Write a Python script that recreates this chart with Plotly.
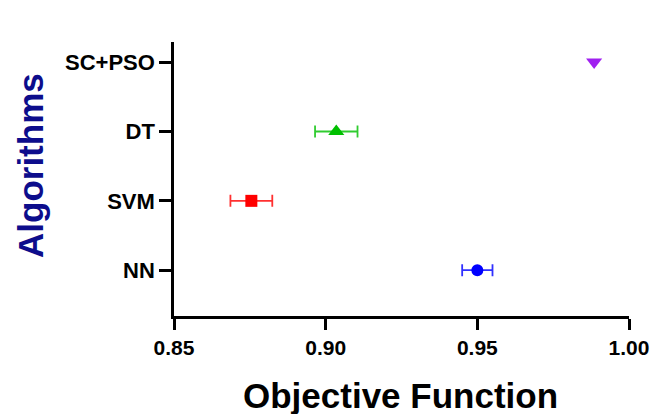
import plotly.graph_objects as go

algorithms = ["NN", "SVM", "DT", "SC+PSO"]
objective = [0.950, 0.8755, 0.9035, 0.9885]
errors = [0.005, 0.0069, 0.007, 0.0]
marker_symbols = ["circle", "square", "triangle-up", "triangle-down"]
marker_sizes = [12, 12, 14, 14]
marker_colors = ["#0000FF", "#FF0000", "#00C000", "#A020F0"]
error_colors = ["#3030FF", "#FF3030", "#30CC30", "#A020F0"]
x_ticks = [0.85, 0.90, 0.95, 1.00]
x_tick_labels = ["0.85", "0.90", "0.95", "1.00"]

fig = go.Figure()
for i, name in enumerate(algorithms):
    fig.add_trace(go.Scatter(
        x=[objective[i]], y=[i], mode="markers", name=name,
        marker=dict(symbol=marker_symbols[i], color=marker_colors[i],
                    size=marker_sizes[i], line=dict(width=0)),
        error_x=dict(type="data", array=[errors[i]], visible=errors[i] > 0,
                     color=error_colors[i], thickness=1.8, width=6),
        showlegend=False,
    ))

font = "Liberation Sans, Arial, sans-serif"
fig.update_layout(
    width=654, height=414,
    margin=dict(l=174, r=25, t=42, b=98, autoexpand=False),
    paper_bgcolor="white", plot_bgcolor="white",
    font=dict(family=font, color="black"),
    xaxis=dict(range=[0.85, 1.00], tickvals=x_ticks, ticktext=x_tick_labels,
               automargin=False,
               showgrid=False, zeroline=False, showline=True, linecolor="black",
               linewidth=2.5, ticks="outside", ticklen=11, tickwidth=2.5,
               tickcolor="black", tickfont=dict(size=21, family=font, weight="bold")),
    yaxis=dict(range=[-0.66, 3.29], tickvals=list(range(len(algorithms))),
               ticktext=algorithms, automargin=False,
               showgrid=False, zeroline=False, showline=True,
               linecolor="black", linewidth=2.5, ticks="outside", ticklen=12,
               tickwidth=2.5, tickcolor="black",
               tickfont=dict(size=22, family=font, weight="bold")),
    annotations=[
        dict(text="<b>Objective Function</b>", xref="paper", yref="paper",
             x=(400 - 174) / 455, y=-(395 - 316) / 274, xanchor="center",
             yanchor="middle", showarrow=False,
             font=dict(size=35, family=font, color="black")),
        dict(text="<b>Algorithms</b>", xref="paper", yref="paper",
             x=-(174 - 30) / 455, y=(316 - 166) / 274, xanchor="center",
             yanchor="middle", showarrow=False, textangle=-90,
             font=dict(size=35, family=font, color="#0D0D8C")),
    ],
)

fig.write_html("out.html", config={"displayModeBar": False},
               post_script="document.body.style.margin='0';")
